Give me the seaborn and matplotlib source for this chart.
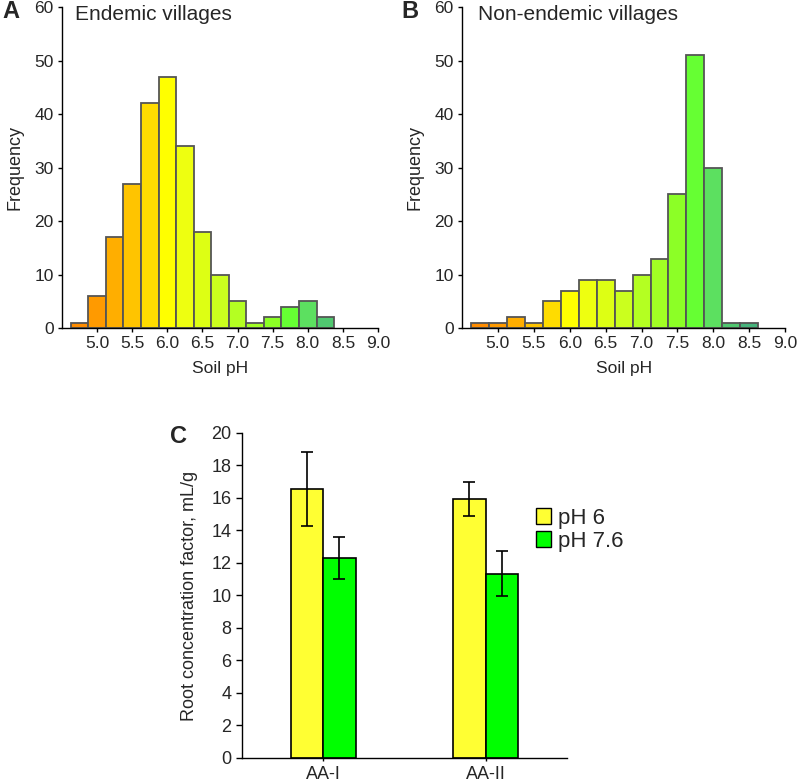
import numpy as np
import pandas as pd
import matplotlib.pyplot as plt
from matplotlib.patches import Patch
import seaborn as sns

# Histogram bins (bin centres, width 0.25 pH)
ph_centers = [4.75, 5.0, 5.25, 5.5, 5.75, 6.0, 6.25, 6.5, 6.75, 7.0, 7.25, 7.5, 7.75, 8.0, 8.25, 8.5]
bin_colors = ["#FF8C00", "#FF9A00", "#FFAE00", "#FFC400", "#FFDC00", "#FFFF00", "#EEFF10",
              "#DDFF14", "#CBFF1E", "#B4FF22", "#A2FF24", "#8CFF26", "#66FF33", "#5CE060",
              "#50C870", "#46B47C"]

endemic_counts = [1, 6, 17, 27, 42, 47, 34, 18, 10, 5, 1, 2, 4, 5, 2, 0]
nonendemic_counts = [1, 1, 2, 1, 5, 7, 9, 9, 7, 10, 13, 25, 51, 30, 1, 1]

# Panel C
compounds = ["AA-I", "AA-II"]
rcf_ph6 = [16.55, 15.95]
rcf_ph76 = [12.3, 11.35]
err_ph6 = [2.25, 1.05]
err_ph76 = [1.3, 1.4]

sns.set_style("white")
plt.rcParams["font.family"] = ["Liberation Sans", "DejaVu Sans"]

fig = plt.figure(figsize=(8, 7.83), dpi=100)
edges = [c - 0.125 for c in ph_centers] + [ph_centers[-1] + 0.125]


def hist_panel(rect, counts):
    ax = fig.add_axes(rect)
    hd = pd.DataFrame({"ph": ph_centers, "n": counts})
    sns.histplot(data=hd, x="ph", weights="n", bins=edges, ax=ax,
                 edgecolor="#555555", linewidth=1.3, alpha=1)
    for patch, col in zip(ax.patches, bin_colors):
        patch.set_facecolor(col)
        if patch.get_height() == 0:
            patch.set_visible(False)
    ax.set_xlim(4.5, 9.0)
    ax.set_ylim(0, 60)
    ax.set_xticks(np.arange(5.0, 9.01, 0.5))
    ax.set_xticklabels([f"{v:.1f}" for v in np.arange(5.0, 9.01, 0.5)])
    ax.set_yticks(range(0, 61, 10))
    ax.set_xlabel("Soil pH", fontsize=12.5, labelpad=7)
    ax.set_ylabel("Frequency", fontsize=13, labelpad=8)
    ax.tick_params(labelsize=12.5, length=3, width=1, direction="out", color="black",
                   bottom=True, left=True, pad=3)
    for s in ["top", "right"]:
        ax.spines[s].set_visible(False)
    for s in ["left", "bottom"]:
        ax.spines[s].set_color("black")
        ax.spines[s].set_linewidth(1)
    return ax


axA = hist_panel([0.0775, 0.581, 0.395, 0.41], endemic_counts)
axB = hist_panel([0.5775, 0.581, 0.404, 0.41], nonendemic_counts)
fig.text(0.094, 0.982, "Endemic villages", fontsize=15, va="center", ha="left")
fig.text(0.597, 0.982, "Non-endemic villages", fontsize=15, va="center", ha="left")
fig.text(0.003, 0.985, "A", fontsize=17, fontweight="bold", va="center")
fig.text(0.502, 0.985, "B", fontsize=17, fontweight="bold", va="center")

# Panel C
df = pd.DataFrame({
    "compound": compounds * 2,
    "value": rcf_ph6 + rcf_ph76,
    "group": ["pH 6"] * 2 + ["pH 7.6"] * 2,
})
axC = fig.add_axes([0.3025, 0.032, 0.406, 0.415])
sns.barplot(data=df, x="compound", y="value", hue="group",
            palette={"pH 6": "#FFFF33", "pH 7.6": "#00FF00"}, saturation=1,
            width=0.4, edgecolor="black", linewidth=1.2, ax=axC, legend=False)
errs = err_ph6 + err_ph76
for patch, val, e in zip(axC.patches, rcf_ph6 + rcf_ph76, errs):
    xc = patch.get_x() + patch.get_width() / 2
    axC.errorbar(xc, val, yerr=e, color="black", capsize=4, elinewidth=1.2, capthick=1.2)
axC.set_xlim(-0.5, 1.5)
axC.set_ylim(0, 20)
axC.set_yticks(range(0, 21, 2))
axC.set_xlabel("")
axC.set_ylabel("Root concentration factor, mL/g", fontsize=13, labelpad=10)
axC.tick_params(axis="y", labelsize=13, length=4, width=1, direction="out", left=True, color="black")
axC.tick_params(axis="x", labelsize=13, length=2, width=1, direction="out", bottom=True, color="black")
for s in ["top", "right"]:
    axC.spines[s].set_visible(False)
for s in ["left", "bottom"]:
    axC.spines[s].set_color("black")
    axC.spines[s].set_linewidth(1)

handles = [Patch(facecolor="#FFFF33", edgecolor="black", label="pH 6"),
           Patch(facecolor="#00FF00", edgecolor="black", label="pH 7.6")]
fig.legend(handles=handles, loc="upper left", bbox_to_anchor=(0.656, 0.366),
           frameon=False, fontsize=16, handlelength=0.7, handleheight=0.7,
           handletextpad=0.3, labelspacing=0.1, borderpad=0)
fig.text(0.212, 0.443, "C", fontsize=17, fontweight="bold", va="center")

fig.savefig("out.png", dpi=100)
